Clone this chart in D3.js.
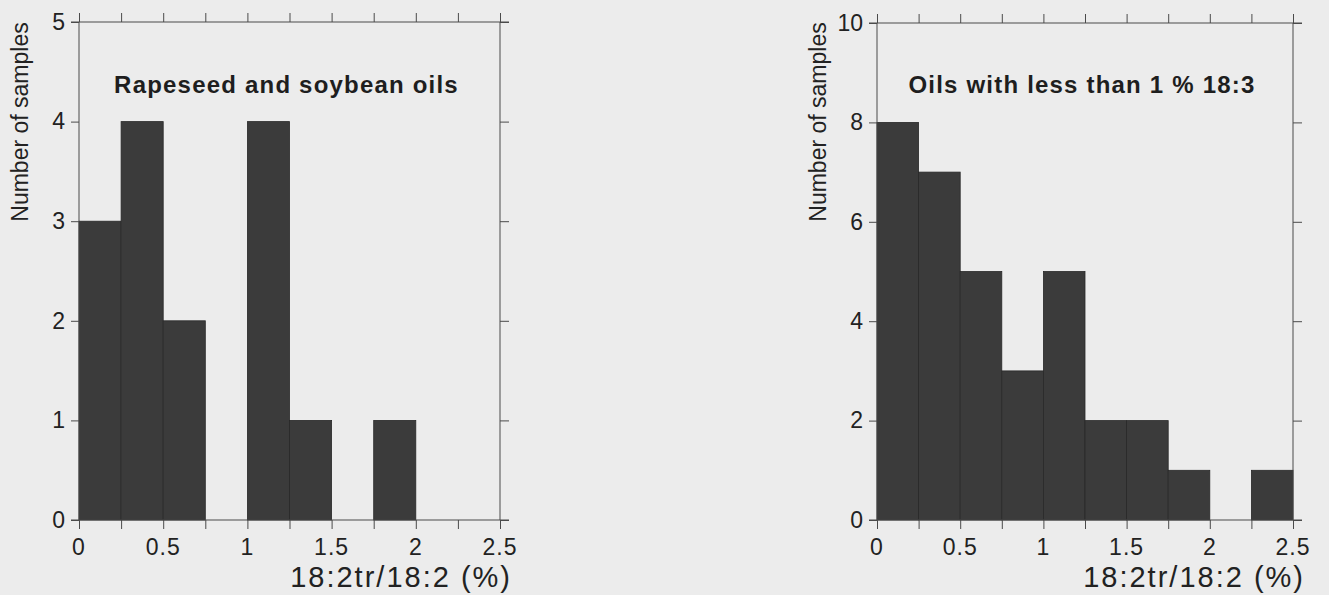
<!DOCTYPE html>
<html>
<head>
<meta charset="utf-8">
<script src="https://cdn.jsdelivr.net/npm/d3@7"></script>
<style>
  html, body { margin: 0; padding: 0; background: #ececec; }
  svg { display: block; font-family: "Liberation Sans", Arial, sans-serif; }
</style>
</head>
<body>
<svg id="chart" width="1329" height="595"></svg>
<script>
// --- datos ---
const binEdges = [0, 0.25, 0.5, 0.75, 1, 1.25, 1.5, 1.75, 2, 2.25, 2.5];
const xTickLabels = [0, 0.5, 1, 1.5, 2, 2.5];
const rapeseedCounts = [3, 4, 2, 0, 4, 1, 0, 1, 0, 0];
const lowLinolenicCounts = [8, 7, 5, 3, 5, 2, 2, 1, 0, 1];
const leftYTicks = [0, 1, 2, 3, 4, 5];
const rightYTicks = [0, 2, 4, 6, 8, 10];
const titles = ["Rapeseed and soybean oils", "Oils with less than 1 % 18:3"];
const yLabel = "Number of samples";
const xLabel = "18:2tr/18:2 (%)";

const svg = d3.select("#chart");
const axisColor = "#4a4a4a";
const barColor = "#3b3b3b";

const panels = [
  { left: 79, right: 500, top: 22, bottom: 520, counts: rapeseedCounts, yMax: 5, yTicks: leftYTicks, title: titles[0] },
  { left: 877, right: 1293, top: 23, bottom: 520, counts: lowLinolenicCounts, yMax: 10, yTicks: rightYTicks, title: titles[1] }
];

panels.forEach(p => drawPanel(p));

function drawPanel(p) {
  const x = d3.scaleLinear().domain([0, 2.5]).range([p.left, p.right]);
  const y = d3.scaleLinear().domain([0, p.yMax]).range([p.bottom, p.top]);
  const g = svg.append("g");

  const bins = p.counts.map((c, i) => ({ x0: binEdges[i], x1: binEdges[i + 1], n: c }));

  // barras
  g.selectAll("rect.bar")
    .data(bins.filter(d => d.n > 0))
    .join("rect")
    .attr("class", "bar")
    .attr("x", d => x(d.x0))
    .attr("y", d => y(d.n))
    .attr("width", d => x(d.x1) - x(d.x0))
    .attr("height", d => y(0) - y(d.n))
    .attr("fill", barColor)
    .attr("stroke", "#282828")
    .attr("stroke-width", 0.8);

  // ejes (cuatro lados, ticks hacia fuera)
  const bottomAxis = d3.axisBottom(x).tickValues(binEdges).tickSize(9).tickFormat("");
  const topAxis = d3.axisTop(x).tickValues(binEdges).tickSize(9).tickFormat("");
  const leftAxis = d3.axisLeft(y).tickValues(p.yTicks).tickSize(8).tickPadding(6).tickFormat(d3.format("d"));
  const rightAxis = d3.axisRight(y).tickValues(p.yTicks).tickSize(9).tickFormat("");

  const styleAxis = sel => {
    sel.select(".domain").remove();
    sel.selectAll("line").attr("stroke", axisColor).attr("stroke-width", 1);
    sel.selectAll("text").attr("fill", "#222").style("font-size", "23px");
  };

  g.append("g").attr("transform", `translate(0,${p.bottom})`).call(bottomAxis).call(styleAxis);
  g.append("g").attr("transform", `translate(0,${p.top})`).call(topAxis).call(styleAxis);
  g.append("g").attr("transform", `translate(${p.left},0)`).call(leftAxis).call(styleAxis);
  g.append("g").attr("transform", `translate(${p.right},0)`).call(rightAxis).call(styleAxis);

  // marco
  g.append("line").attr("x1", p.left - 8).attr("x2", p.right + 9).attr("y1", p.bottom).attr("y2", p.bottom).attr("stroke", axisColor);
  g.append("line").attr("x1", p.left - 8).attr("x2", p.right + 9).attr("y1", p.top).attr("y2", p.top).attr("stroke", axisColor);
  g.append("line").attr("x1", p.left).attr("x2", p.left).attr("y1", p.top).attr("y2", p.bottom).attr("stroke", axisColor);
  g.append("line").attr("x1", p.right).attr("x2", p.right).attr("y1", p.top).attr("y2", p.bottom).attr("stroke", axisColor);

  // etiquetas del eje x
  g.selectAll("text.xtick")
    .data(xTickLabels)
    .join("text")
    .attr("class", "xtick")
    .attr("x", d => x(d))
    .attr("y", p.bottom + 35)
    .attr("text-anchor", "middle")
    .attr("fill", "#222")
    .style("font-size", "23px")
    .style("letter-spacing", "1px")
    .text(d => d);

  // título
  g.append("text")
    .attr("x", (x(0) + x(2.5)) / 2 - 3)
    .attr("y", 93)
    .attr("text-anchor", "middle")
    .attr("fill", "#1e1e1e")
    .style("font-size", "24px")
    .style("font-weight", "bold")
    .style("letter-spacing", "1.2px")
    .text(p.title);

  // etiqueta eje y
  g.append("text")
    .attr("transform", `translate(${p.left - 51},${122}) rotate(-90)`)
    .attr("text-anchor", "middle")
    .attr("fill", "#222")
    .style("font-size", "23px")
    .text(yLabel);

  // etiqueta eje x
  g.append("text")
    .attr("x", p.right + 12)
    .attr("y", 587)
    .attr("text-anchor", "end")
    .attr("fill", "#222")
    .style("font-size", "29px")
    .style("letter-spacing", "2px")
    .text(xLabel);
}
</script>
</body>
</html>
